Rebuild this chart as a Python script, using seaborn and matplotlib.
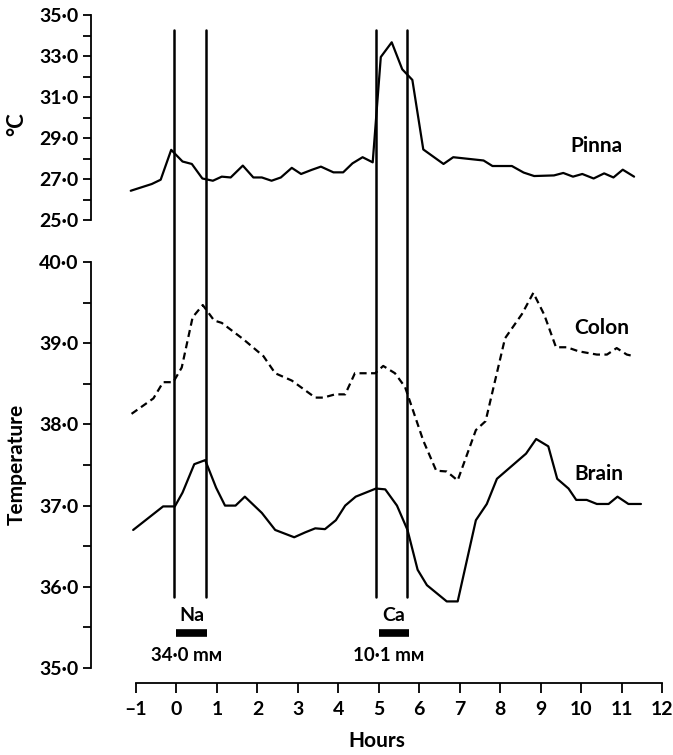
import numpy as np
import pandas as pd
import matplotlib
matplotlib.use("Agg")
import matplotlib.pyplot as plt
import seaborn as sns
from matplotlib.lines import Line2D
from matplotlib.transforms import blended_transform_factory

# ---------------- data ----------------
pinna_h = [-1.13, -0.61, -0.39, -0.13, 0.15, 0.38, 0.64, 0.90, 1.12, 1.34, 1.64, 1.90,
           2.11, 2.35, 2.58, 2.85, 3.08, 3.34, 3.57, 3.88, 4.12, 4.35, 4.60, 4.85,
           5.05, 5.32, 5.58, 5.83, 6.10, 6.60, 6.84, 7.59, 7.81, 8.29, 8.58, 8.84,
           9.33, 9.56, 9.80, 10.03, 10.31, 10.57, 10.80, 11.03, 11.31]
pinna_t = [26.43, 26.76, 26.97, 28.43, 27.86, 27.74, 27.03, 26.92, 27.12, 27.08, 27.66, 27.08,
           27.08, 26.92, 27.08, 27.55, 27.25, 27.45, 27.61, 27.33, 27.33, 27.77, 28.07, 27.82,
           32.97, 33.69, 32.37, 31.85, 28.45, 27.74, 28.07, 27.91, 27.64, 27.64, 27.32, 27.15,
           27.18, 27.30, 27.12, 27.25, 27.03, 27.28, 27.08, 27.46, 27.12]

colon_h = [-1.11, -0.57, -0.33, -0.08, 0.13, 0.40, 0.65, 0.93, 1.12, 1.65, 2.15, 2.44,
           2.85, 3.43, 3.63, 3.92, 4.17, 4.41, 4.91, 5.11, 5.40, 5.65, 6.10, 6.42,
           6.68, 6.95, 7.40, 7.64, 8.12, 8.54, 8.82, 9.09, 9.38, 9.65, 9.94, 10.39,
           10.64, 10.88, 11.13, 11.31]
colon_t = [38.13, 38.32, 38.52, 38.52, 38.70, 39.32, 39.47, 39.28, 39.25, 39.05, 38.84, 38.63,
           38.54, 38.33, 38.33, 38.37, 38.37, 38.63, 38.63, 38.72, 38.63, 38.46, 37.80, 37.43,
           37.42, 37.31, 37.93, 38.04, 39.06, 39.36, 39.62, 39.35, 38.95, 38.95, 38.90, 38.86,
           38.86, 38.94, 38.86, 38.84]

brain_h = [-1.07, -0.33, -0.04, 0.15, 0.44, 0.71, 0.98, 1.20, 1.46, 1.69, 2.11, 2.44,
           2.91, 3.18, 3.43, 3.67, 3.94, 4.17, 4.43, 4.93, 5.16, 5.45, 5.71, 5.96,
           6.19, 6.68, 6.95, 7.40, 7.67, 7.92, 8.64, 8.89, 9.19, 9.41, 9.69, 9.88,
           10.14, 10.39, 10.68, 10.90, 11.17, 11.48]
brain_t = [36.70, 36.99, 36.99, 37.16, 37.51, 37.56, 37.22, 37.00, 37.00, 37.11, 36.91, 36.70,
           36.61, 36.67, 36.72, 36.71, 36.82, 37.00, 37.11, 37.21, 37.20, 37.00, 36.70, 36.21,
           36.02, 35.82, 35.82, 36.82, 37.02, 37.33, 37.64, 37.82, 37.73, 37.33, 37.21, 37.07,
           37.07, 37.02, 37.02, 37.11, 37.02, 37.02]

infusion_names = ["Na", "Ca"]
infusion_start = [0.0, 5.0]
infusion_end = [0.75, 5.75]
infusion_conc = ["34·0 mм", "10·1 mм"]
marker_lines = [-0.07, 0.72, 4.92, 5.70]

x_ticks = list(range(-1, 13))
x_ticklabels = ["–1"] + [str(v) for v in range(0, 13)]
top_major = [25, 27, 29, 31, 33, 35]
top_labels = ["25·0", "27·0", "29·0", "31·0", "33·0", "35·0"]
top_minor = [26, 28, 30, 32, 34]
bot_major = [35, 36, 37, 38, 39, 40]
bot_labels = ["35·0", "36·0", "37·0", "38·0", "39·0", "40·0"]
bot_minor = [35.5, 36.5, 37.5, 38.5, 39.5]

# ---------------- figure ----------------
sns.set_style("white")
plt.rcParams["font.family"] = ["Lato", "DejaVu Sans"]
plt.rcParams["font.weight"] = "bold"

W, H = 673, 755
fig = plt.figure(figsize=(W / 100, H / 100), dpi=100)

def fx(px):
    return px / W

def fy(py):
    return 1 - py / H

left_px, right_px = 91, 662
x_left = -1 - (136 - left_px) / ((662 - 136) / 13)

# bottom panel: 40 at y=262, 35 at y=668, x axis line at y=683
ppd_bot = (668 - 262) / 5.0
axis_px = 683
bot_low = 35 - (axis_px - 668) / ppd_bot

ax_top = fig.add_axes([fx(left_px), fy(220), fx(right_px - left_px), (220 - 15.5) / H])
ax_bot = fig.add_axes([fx(left_px), fy(axis_px), fx(right_px - left_px), (axis_px - 262) / H])

lw = 1.6
pinna_df = pd.DataFrame({"h": pinna_h, "t": pinna_t})
colon_df = pd.DataFrame({"h": colon_h, "t": colon_t})
brain_df = pd.DataFrame({"h": brain_h, "t": brain_t})

sns.lineplot(data=pinna_df, x="h", y="t", ax=ax_top, color="black", lw=lw,
             estimator=None, sort=False)
sns.lineplot(data=colon_df, x="h", y="t", ax=ax_bot, color="black", lw=lw,
             estimator=None, sort=False, linestyle=(0, (3.2, 2.0)))
sns.lineplot(data=brain_df, x="h", y="t", ax=ax_bot, color="black", lw=lw,
             estimator=None, sort=False)

tick_kw = dict(direction="out", length=6, width=1.3, color="black", left=True)
tl_size = 14
label_x = (27 - left_px) / (right_px - left_px)

# top axis
ax_top.set_xlim(x_left, 12)
ax_top.set_ylim(25, 35)
ax_top.set_yticks(top_major)
ax_top.set_yticklabels(top_labels, fontsize=tl_size, color="black", fontweight="bold")
ax_top.set_yticks(top_minor, minor=True)
ax_top.tick_params(axis="y", which="both", **tick_kw)
ax_top.tick_params(axis="y", which="major", pad=3)
for s in ["top", "right", "bottom"]:
    ax_top.spines[s].set_visible(False)
ax_top.spines["left"].set_linewidth(1.3)
ax_top.spines["left"].set_color("black")
ax_top.set_xticks([])
ax_top.set_xlabel("")
ax_top.set_ylabel("°C", fontsize=16, color="black", fontweight="bold")
ax_top.yaxis.set_label_coords(label_x, 0.47)
ax_top.patch.set_alpha(0)

# bottom axis
ax_bot.set_xlim(x_left, 12)
ax_bot.set_ylim(bot_low, 40)
ax_bot.set_yticks(bot_major)
ax_bot.set_yticklabels(bot_labels, fontsize=tl_size, color="black", fontweight="bold")
ax_bot.set_yticks(bot_minor, minor=True)
ax_bot.tick_params(axis="y", which="both", **tick_kw)
ax_bot.tick_params(axis="y", which="major", pad=3)
ax_bot.set_xticks(x_ticks)
ax_bot.set_xticklabels(x_ticklabels, fontsize=tl_size, color="black", fontweight="bold")
ax_bot.tick_params(axis="x", which="major", direction="out", length=7, width=1.3,
                   color="black", pad=6, bottom=True)
ax_bot.spines["top"].set_visible(False)
ax_bot.spines["right"].set_visible(False)
for s in ["left", "bottom"]:
    ax_bot.spines[s].set_linewidth(1.3)
    ax_bot.spines[s].set_color("black")
ax_bot.set_xlabel("Hours", fontsize=15, color="black", labelpad=9, fontweight="bold")
ax_bot.set_ylabel("Temperature", fontsize=15, color="black", fontweight="bold")
ax_bot.yaxis.set_label_coords(label_x, (683 - 464) / (683 - 262))
ax_bot.patch.set_alpha(0)

# curve labels
ax_top.text(10.39, 28.6, "Pinna", fontsize=15, ha="center", va="center", color="black")
ax_bot.text(10.5, 39.19, "Colon", fontsize=15, ha="center", va="center", color="black")
ax_bot.text(10.45, 37.39, "Brain", fontsize=15, ha="center", va="center", color="black")

# infusion bars and labels
for name, s, e, c in zip(infusion_names, infusion_start, infusion_end, infusion_conc):
    ax_bot.hlines(35.43, s, e, color="black", lw=5.5)
    ax_bot.text((s + e) / 2, 35.645, name, fontsize=14, ha="center", va="center", color="black")
    ax_bot.text((s + e) / 2 - 0.12, 35.16, c, fontsize=13.5, ha="center", va="center", color="black")

# vertical marker lines spanning both panels
trans = blended_transform_factory(ax_bot.transData, fig.transFigure)
for xv in marker_lines:
    fig.add_artist(Line2D([xv, xv], [fy(30), fy(597)], transform=trans,
                          color="black", lw=1.8, clip_on=False))

ax_bot.spines["left"].set_bounds(35, 40)
ax_bot.spines["bottom"].set_bounds(-1, 12)

fig.savefig("out.png", dpi=100, facecolor="white")
